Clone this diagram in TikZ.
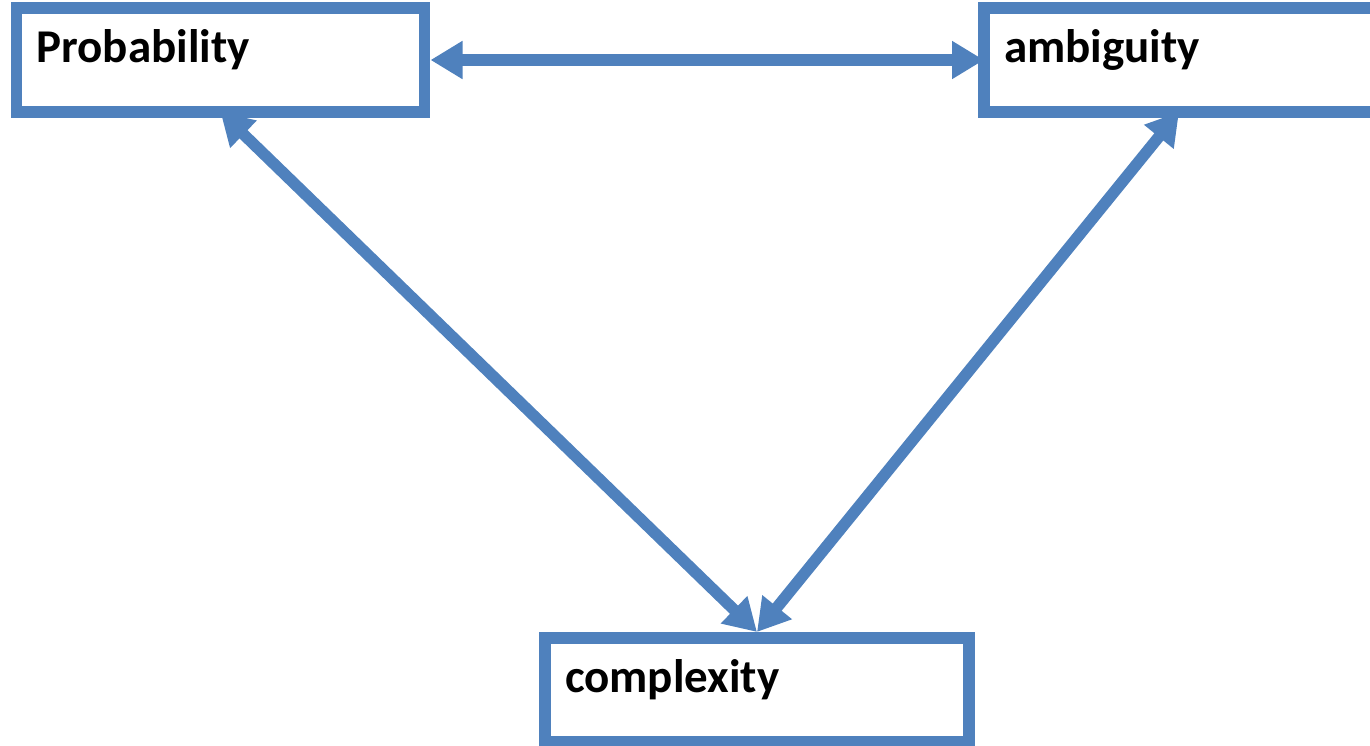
\documentclass[tikz,border=0pt]{standalone}
\usepackage{fontspec}
\setmainfont{Carlito}
\usetikzlibrary{
	positioning,
	arrows.meta
}
\definecolor{officeblue}{RGB}{79,129,189}

\begin{document}
\begin{tikzpicture}[
	node distance =0mm,
	box/.style = {
		rectangle,
		draw=officeblue,
		line width=5.75pt,
		outer sep=0pt,
		inner xsep=10pt,
		inner ysep=0pt,
		text width=184pt, align=left,
		text height=14pt, text depth=12pt,
		minimum height=52pt,
		font=\fontsize{23.5pt}{28pt}\selectfont\bfseries
	},
	link/.style = {
		draw=officeblue,
		line width=5.75pt,
		{Triangle[length=16pt,width=18pt]}-{Triangle[length=16pt,width=18pt]}
	},
]
	\useasboundingbox (0,0) rectangle (685pt,-372.5pt);

	\node (complexity) [box, text width=192pt] at (378.5pt,-345pt) {complexity};

	\node (probability) [box, above left=263pt and 166.25pt of complexity.north] {Probability};
	\node (ambiguity) [box, text width=190pt, above right=263pt and 113.5pt of complexity.north] {ambiguity};

	\draw[link] ([xshift=3pt]probability.east) -- (ambiguity.west);
	\draw[link] (probability.south) -- ([yshift=3pt]complexity.north);
	\draw[link] ([xshift=97.5pt]ambiguity.south west) -- ([yshift=3pt]complexity.north);
\end{tikzpicture}
\end{document}
